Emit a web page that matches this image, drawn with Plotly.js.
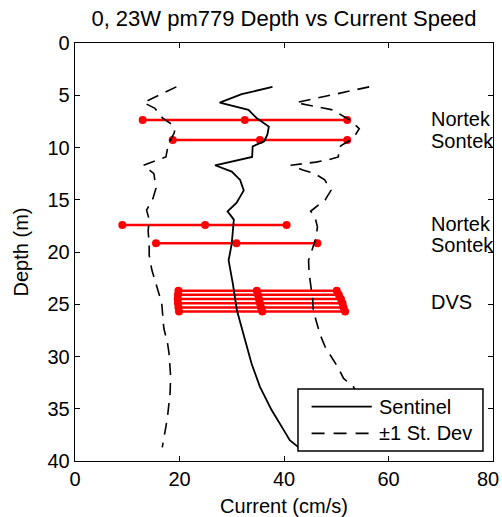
<!DOCTYPE html>
<html>
<head>
<meta charset="utf-8">
<script src="https://cdn.plot.ly/plotly-3.0.1.min.js"></script>
<style>html,body{margin:0;padding:0;background:#fff;}#chart{width:502px;height:517px;}</style>
</head>
<body>
<div id="chart"></div>
<script>
// Sentinel mean current profile
const meanDepth = [4.2, 4.9, 5.7, 6.4, 7.2, 8.0, 8.8, 9.4, 9.9, 10.9, 11.7, 12.3, 13.1, 14.1, 15.3, 16.1, 16.9, 18.0, 19.2, 20.8, 22.0, 23.0, 25.6, 28.1, 30.7, 32.9, 35.1, 37.0, 38.0, 38.7];
const meanSpeed = [37.8, 31.9, 27.7, 33.2, 34.8, 37.1, 36.8, 36.2, 34.0, 33.9, 26.8, 30.0, 31.6, 32.3, 30.9, 29.2, 30.4, 30.2, 30.0, 29.4, 29.9, 30.2, 31.0, 32.3, 33.8, 35.4, 37.6, 39.9, 41.1, 42.8];

// -1 St. Dev
const lowDepth = [4.2, 5.7, 6.25, 7.2, 7.85, 8.2, 8.6, 9.6, 10.9, 11.7, 12.5, 13.9, 14.9, 16.0, 16.9, 18.0, 19.3, 20.3, 21.7, 22.7, 23.6, 24.9, 27.3, 28.7, 29.7, 31.0, 31.9, 33.5, 34.5, 35.8, 36.7, 38.0, 38.7];
const lowSpeed = [19.4, 13.1, 15.3, 16.8, 18.7, 19.1, 19.0, 17.9, 17.4, 13.1, 15.1, 15.5, 14.9, 13.7, 14.2, 14.0, 14.2, 14.2, 14.7, 15.3, 15.9, 16.6, 17.0, 17.7, 18.0, 18.2, 18.3, 18.2, 18.0, 17.7, 17.4, 16.9, 16.7];

// +1 St. Dev
const highDepth = [4.2, 5.7, 5.93, 6.2, 6.4, 7.2, 7.5, 8.2, 9.1, 9.8, 10.0, 10.9, 11.2, 11.4, 11.7, 12.15, 12.5, 13.1, 14.1, 15.0, 16.1, 16.6, 17.6, 18.7, 19.6, 20.3, 20.8, 22.0, 23.0, 24.6, 25.6, 26.8, 27.9, 29.1, 30.0, 31.1, 32.1, 32.9, 34.0, 35.5, 37.0, 38.7];
const highSpeed = [56.3, 42.3, 44.5, 47.0, 49.3, 52.0, 52.9, 54.4, 53.3, 51.0, 50.5, 50.4, 48.3, 46.1, 41.3, 43.6, 45.9, 47.8, 49.0, 47.9, 45.1, 45.9, 46.4, 46.1, 45.5, 45.1, 44.7, 44.8, 45.1, 45.5, 45.6, 46.3, 46.9, 47.9, 49.1, 50.4, 51.4, 53.3, 54.5, 56.0, 57.0, 57.5];

// Instrument comparison bars (min, mean, max)
const barDepth = [7.37, 9.28, 17.42, 19.17, 23.7, 24.1, 24.5, 24.9, 25.3, 25.7];
const barLow  = [12.95, 18.7, 9.06, 15.5, 19.8, 19.7, 19.65, 19.7, 19.8, 19.9];
const barMid  = [32.5, 35.4, 24.9, 30.9, 34.8, 35.0, 35.2, 35.4, 35.6, 35.85];
const barHigh = [52.1, 52.1, 40.5, 46.4, 50.1, 50.5, 50.9, 51.2, 51.4, 51.7];

// Labels
const labelText = ["Nortek", "Sontek", "Nortek", "Sontek", "DVS"];
const labelDepth = [7.3, 9.35, 17.3, 19.35, 24.75];
const labelX = 67.7;

// Axis ticks
const xTicks = [0, 20, 40, 60, 80];
const xTickText = ["0", "20", "40", "60", "80"];
const yTicks = [0, 5, 10, 15, 20, 25, 30, 35, 40];

// Legend entries
const legendNames = ["Sentinel", "\u00b11 St. Dev"];

const FAM = 'Liberation Sans, Arial, Helvetica, sans-serif';
const font = {family: FAM, size: 20, color: '#000'};

const traces = [];
for (let i = 0; i < barDepth.length; i++) {
  traces.push({
    x: [barLow[i], barMid[i], barHigh[i]],
    y: [barDepth[i], barDepth[i], barDepth[i]],
    mode: 'lines+markers', type: 'scatter',
    line: {color: '#ff0000', width: 2.5},
    marker: {color: '#ff0000', size: 8},
    showlegend: false, hoverinfo: 'skip'
  });
}
traces.push({
  x: meanSpeed, y: meanDepth, mode: 'lines', type: 'scatter', name: legendNames[0],
  line: {color: '#000', width: 1.8}, showlegend: false
});
traces.push({
  x: lowSpeed, y: lowDepth, mode: 'lines', type: 'scatter', name: legendNames[1],
  line: {color: '#000', width: 1.6, dash: '12px,8px'}, showlegend: false
});
traces.push({
  x: highSpeed, y: highDepth, mode: 'lines', type: 'scatter', name: legendNames[1],
  line: {color: '#000', width: 1.6, dash: '12px,8px'}, showlegend: false
});

const annotations = labelText.map((t, i) => ({
  x: labelX, y: labelDepth[i], xref: 'x', yref: 'y', text: t, showarrow: false,
  xanchor: 'left', yanchor: 'middle', font: font
}));

// Last x tick label sits at the window edge: draw it right-aligned so it stays inside
const lastTick = xTickText.length - 1;
annotations.push({
  x: 1.0191, y: 0, xref: 'paper', yref: 'paper', text: xTickText[lastTick], showarrow: false,
  xanchor: 'right', yanchor: 'middle', yshift: -18, font: font
});

// Manual legend box (MATLAB style: long line samples)
const lgX0 = 0.5335, lgX1 = 0.976, lgY0 = 0.024, lgY1 = 0.172;
const sampleX0 = 0.566, sampleX1 = 0.710, textX = 0.722;
const rowY = [0.130, 0.066];
const shapes = [
  {type: 'rect', xref: 'paper', yref: 'paper', x0: lgX0, x1: lgX1, y0: lgY0, y1: lgY1,
   fillcolor: '#fff', line: {color: '#000', width: 1.5}, layer: 'above'},
  {type: 'line', xref: 'paper', yref: 'paper', x0: sampleX0, x1: sampleX1, y0: rowY[0], y1: rowY[0],
   line: {color: '#000', width: 1.8}, layer: 'above'},
  {type: 'line', xref: 'paper', yref: 'paper', x0: sampleX0, x1: sampleX1, y0: rowY[1], y1: rowY[1],
   line: {color: '#000', width: 1.6, dash: '13px,9px'}, layer: 'above'}
];
legendNames.forEach((n, i) => annotations.push({
  x: textX, y: rowY[i], xref: 'paper', yref: 'paper', text: n, showarrow: false,
  xanchor: 'left', yanchor: 'middle', font: font
}));

const layout = {
  width: 502, height: 517,
  margin: {l: 75, r: 9, t: 43, b: 56, pad: 0},
  paper_bgcolor: '#fff', plot_bgcolor: '#fff',
  font: font,
  title: {text: '0, 23W pm779 Depth vs Current Speed', font: {family: FAM, size: 22, color: '#000'},
    x: 0.5, xref: 'paper', xanchor: 'center', y: 1 - 18/517, yref: 'container', yanchor: 'middle'},
  xaxis: {
    range: [0, 80], tickvals: xTicks, ticktext: xTickText.map((t, i) => i === lastTick ? '' : t),
    ticks: 'inside', ticklen: 5, tickcolor: '#000',
    showline: true, linecolor: '#000', linewidth: 1.3, mirror: 'ticks', showgrid: false, zeroline: false,
    title: {text: 'Current (cm/s)', font: font, standoff: 11}, tickfont: font
  },
  yaxis: {
    range: [40, 0], tickvals: yTicks, ticks: 'inside', ticklen: 5, tickcolor: '#000',
    showline: true, linecolor: '#000', linewidth: 1.3, mirror: 'ticks', showgrid: false, zeroline: false,
    title: {text: 'Depth (m)', font: font, standoff: 13}, tickfont: font
  },
  shapes: shapes,
  annotations: annotations,
  showlegend: false
};
Plotly.newPlot('chart', traces, layout, {staticPlot: true, displayModeBar: false});
</script>
</body>
</html>
